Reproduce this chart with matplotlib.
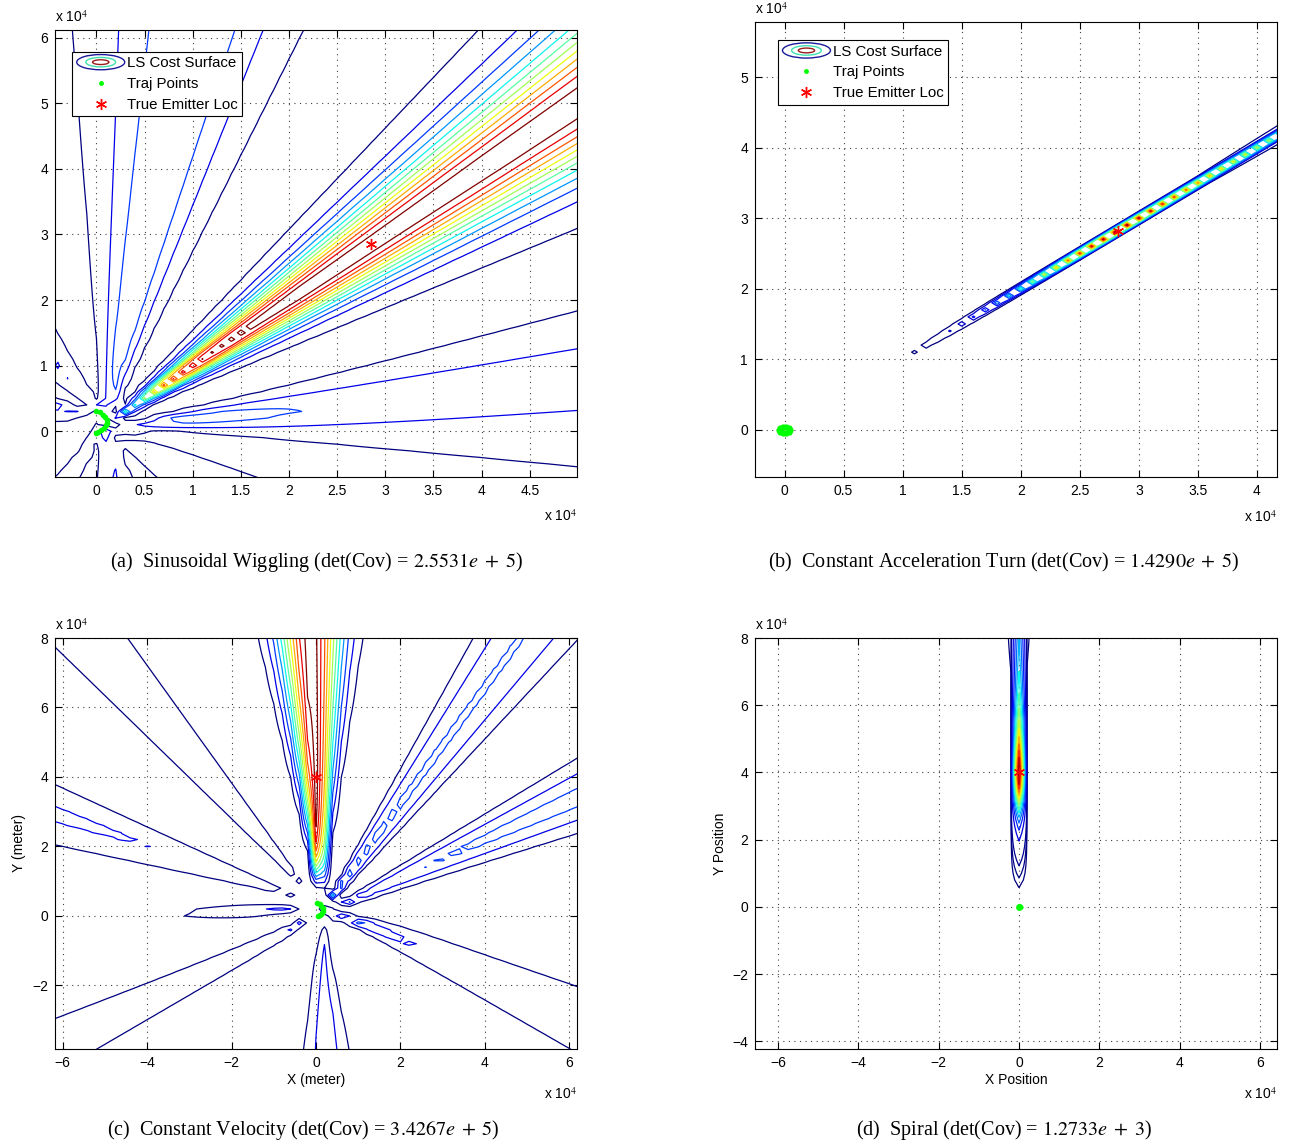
import numpy as np
import matplotlib
matplotlib.use('Agg')
import matplotlib.pyplot as plt
from matplotlib.patches import Ellipse
from matplotlib.legend_handler import HandlerBase
from matplotlib.lines import Line2D

plt.rcParams['font.family'] = ['Liberation Sans', 'DejaVu Sans']
plt.rcParams['mathtext.fontset'] = 'stix'

# all positions in units of 1e4 m
# (a) sinusoidal wiggling
traj_a_x = [0.00, 0.04, 0.07, 0.09, 0.105, 0.11, 0.10, 0.08, 0.05, 0.02, 0.00]
traj_a_y = [0.31, 0.29, 0.25, 0.21, 0.17, 0.13, 0.09, 0.05, 0.01, -0.02, -0.03]
emit_a = (2.85, 2.85)
ratio_a = 1.8

# (b) constant acceleration turn
traj_b_x = [0.045, 0.036, 0.014, -0.014, -0.036, -0.045, -0.036, -0.014, 0.014, 0.036]
traj_b_y = [0.000, 0.026, 0.043, 0.043, 0.026, 0.000, -0.026, -0.043, -0.043, -0.026]
emit_b = (2.82, 2.82)
sigma_b = 0.00205  # bearing noise, rad

# (c) constant velocity
traj_c_x = [0.03, 0.09, 0.13, 0.16, 0.16, 0.14, 0.10, 0.05]
traj_c_y = [0.36, 0.33, 0.28, 0.22, 0.15, 0.09, 0.04, 0.00]
emit_c = (0.0, 4.0)
ratio_c = 2.0

# (d) spiral
traj_d_x = [0.004, 0.002, -0.006, -0.012, -0.010, 0.0, 0.012, 0.020, 0.018, 0.006,
            -0.010, -0.024, -0.030, -0.024, -0.008, 0.012, 0.030, 0.038, 0.034, 0.018]
traj_d_y = [0.0, 0.007, 0.008, 0.0, -0.010, -0.016, -0.013, 0.0, 0.014, 0.023,
            0.024, 0.014, -0.004, -0.022, -0.032, -0.032, -0.020, 0.0, 0.022, 0.038]
emit_d = (0.0, 4.0)
sigma_d = 0.0011

captions = [
    r'(a)  Sinusoidal Wiggling (det(Cov) = $2.5531e\;+\;5$)',
    r'(b)  Constant Acceleration Turn (det(Cov) = $1.4290e\;+\;5$)',
    r'(c)  Constant Velocity (det(Cov) = $3.4267e\;+\;5$)',
    r'(d)  Spiral (det(Cov) = $1.2733e\;+\;3$)',
]


def bearings(gx, gy, tx, ty, emit):
    tx = np.asarray(tx)
    ty = np.asarray(ty)
    X, Y = np.meshgrid(gx, gy)
    th_p = np.arctan2(Y[..., None] - ty, X[..., None] - tx)
    th_e = np.arctan2(emit[1] - ty, emit[0] - tx)
    return X, Y, th_p, th_e


def phase_surface(gx, gy, tx, ty, emit, ratio, beta=2.5):
    # interferometer phase LS cost -> exp(-cost)
    X, Y, th_p, th_e = bearings(gx, gy, tx, ty, emit)
    head = np.arctan2(np.gradient(np.asarray(ty)), np.gradient(np.asarray(tx)))
    dphi = 2 * np.pi * ratio * (np.sin(th_p - head) - np.sin(th_e - head))
    s = np.cos(dphi).mean(axis=-1)
    return X, Y, np.exp(beta * (s - 1))


def bearing_surface(gx, gy, tx, ty, emit, sigma):
    # bearing-only LS cost -> 1 / (1 + cost)
    X, Y, th_p, th_e = bearings(gx, gy, tx, ty, emit)
    d = np.angle(np.exp(1j * (th_p - th_e)))
    J = (d ** 2).mean(axis=-1) / (2 * sigma ** 2)
    return X, Y, 1.0 / (1.0 + J)


class ContourHandler(HandlerBase):
    def create_artists(self, legend, orig_handle, xdescent, ydescent,
                       width, height, fontsize, trans):
        cx = width / 2 - xdescent
        cy = height / 2 - ydescent
        arts = []
        for w, h, c in [(1.0, 1.45, '#1a1a9a'), (0.62, 0.9, '#40e0b0'), (0.34, 0.45, '#9b1c1c')]:
            e = Ellipse((cx, cy), width * w, height * h, fill=False,
                        edgecolor=c, lw=1.0, transform=trans)
            arts.append(e)
        return arts


def fmt(v):
    s = '%g' % v
    return s.replace('-', '\u2212')


def style_axes(ax, xlim, ylim, xticks, yticks):
    ax.set_xlim(xlim)
    ax.set_ylim(ylim)
    ax.set_xticks(xticks)
    ax.set_yticks(yticks)
    ax.set_xticklabels([fmt(t) for t in xticks])
    ax.set_yticklabels([fmt(t) for t in yticks])
    ax.grid(True, linestyle=(0, (1, 4)), color='0.25', linewidth=0.8)
    ax.tick_params(direction='in', top=True, right=True, length=5,
                   labelsize=10, pad=5)
    for s in ax.spines.values():
        s.set_linewidth(0.8)


def add_legend(ax, anchor):
    proxy = Line2D([], [])
    h_traj = Line2D([], [], ls='none', marker='.', color='#00ff00', ms=5)
    h_emit = Line2D([], [], ls='none', marker=(6, 2, 0), color='red', ms=8, mew=1)
    leg = ax.legend([proxy, h_traj, h_emit],
                    ['LS Cost Surface', 'Traj Points', 'True Emitter Loc'],
                    handler_map={proxy: ContourHandler()},
                    loc='upper left', bbox_to_anchor=anchor, fontsize=10.8,
                    fancybox=False, framealpha=1, edgecolor='k',
                    handlelength=3.2, handletextpad=0.15, borderpad=0.3,
                    labelspacing=0.45, borderaxespad=0)
    leg.get_frame().set_linewidth(0.8)


W, H = 1289, 1145
fig = plt.figure(figsize=(W / 100, H / 100), dpi=100)


def px_axes(l, t, r, b):
    return fig.add_axes([l / W, 1 - b / H, (r - l) / W, (b - t) / H])


ax_a = px_axes(55, 30, 577, 477)
ax_b = px_axes(755, 22, 1277, 477)
ax_c = px_axes(55, 638, 577, 1049)
ax_d = px_axes(755, 638, 1277, 1049)

# (a)
gx = np.linspace(-0.5, 5.1, 57)
gy = np.linspace(-0.8, 6.2, 71)
X, Y, Z = phase_surface(gx, gy, traj_a_x, traj_a_y, emit_a, ratio_a)
ax_a.contour(X, Y, Z, levels=np.linspace(0.07, 0.95, 12), cmap='jet', linewidths=0.9)
ax_a.plot(traj_a_x, traj_a_y, '.', color='#00ff00', ms=6)
ax_a.plot(*emit_a, marker=(6, 2, 0), color='red', ms=8, mew=1)
style_axes(ax_a, (-0.43, 4.99), (-0.70, 6.12), np.arange(0, 4.6, 0.5), np.arange(0, 7, 1))
add_legend(ax_a, (0.033, 0.951))

# (b)
gx = np.linspace(-0.3, 4.2, 46)
gy = np.linspace(-0.7, 5.8, 66)
X, Y, Z = bearing_surface(gx, gy, traj_b_x, traj_b_y, emit_b, sigma_b)
ax_b.contour(X, Y, Z, levels=np.linspace(0.04, 0.98, 16), cmap='jet', linewidths=0.9)
ax_b.plot(traj_b_x, traj_b_y, '.', color='#00ff00', ms=7)
ax_b.plot(*emit_b, marker=(6, 2, 0), color='red', ms=8, mew=1)
style_axes(ax_b, (-0.25, 4.17), (-0.67, 5.78), np.arange(0, 4.1, 0.5), np.arange(0, 6, 1))
add_legend(ax_b, (0.044, 0.96))

# (c)
gx = np.linspace(-6.4, 6.4, 65)
gy = np.linspace(-4.0, 8.0, 61)
X, Y, Z = phase_surface(gx, gy, traj_c_x, traj_c_y, emit_c, ratio_c)
ax_c.contour(X, Y, Z, levels=np.linspace(0.1, 0.95, 12), cmap='jet', linewidths=0.9)
ax_c.plot(traj_c_x, traj_c_y, '.', color='#00ff00', ms=6)
ax_c.plot(*emit_c, marker=(6, 2, 0), color='red', ms=8, mew=1)
style_axes(ax_c, (-6.18, 6.18), (-3.83, 8.0), np.arange(-6, 7, 2), np.arange(-2, 9, 2))
ax_c.set_xlabel('X (meter)', fontsize=10, labelpad=2)
ax_c.set_ylabel('Y (meter)', fontsize=10, labelpad=4)

# (d)
gx = np.linspace(-6.6, 6.6, 67)
gy = np.linspace(-4.4, 8.0, 63)
X, Y, Z = bearing_surface(gx, gy, traj_d_x, traj_d_y, emit_d, sigma_d)
lev_d = np.concatenate([[0.003, 0.008], np.linspace(0.02, 0.98, 15)])
ax_d.contour(X, Y, Z, levels=lev_d, cmap='jet', linewidths=0.9)
ax_d.plot(traj_d_x, traj_d_y, '.', color='#00ff00', ms=4)
ax_d.plot(*emit_d, marker=(6, 2, 0), color='red', ms=8, mew=1)
style_axes(ax_d, (-6.57, 6.42), (-4.23, 8.0), np.arange(-6, 7, 2), np.arange(-4, 9, 2))
ax_d.set_xlabel('X Position', fontsize=10, labelpad=2)
ax_d.set_ylabel('Y Position', fontsize=10, labelpad=4)

# x 10^4 multipliers
for ax in (ax_a, ax_b, ax_c, ax_d):
    ax.text(0.0, 1.012, r'x 10$^{4}$', transform=ax.transAxes, fontsize=10,
            ha='left', va='bottom')
    ax.text(1.0, -0.07 if ax in (ax_a, ax_b) else -0.09, r'x 10$^{4}$',
            transform=ax.transAxes, fontsize=10, ha='right', va='top')

# captions
cap_font = dict(family='Liberation Serif', fontsize=14.5, ha='center', va='center')
fig.text(316 / W, 1 - 562 / H, captions[0], **cap_font)
fig.text(1004 / W, 1 - 562 / H, captions[1], **cap_font)
fig.text(303 / W, 1 - 1130 / H, captions[2], **cap_font)
fig.text(1004 / W, 1 - 1130 / H, captions[3], **cap_font)

fig.savefig('out.png', dpi=100)
